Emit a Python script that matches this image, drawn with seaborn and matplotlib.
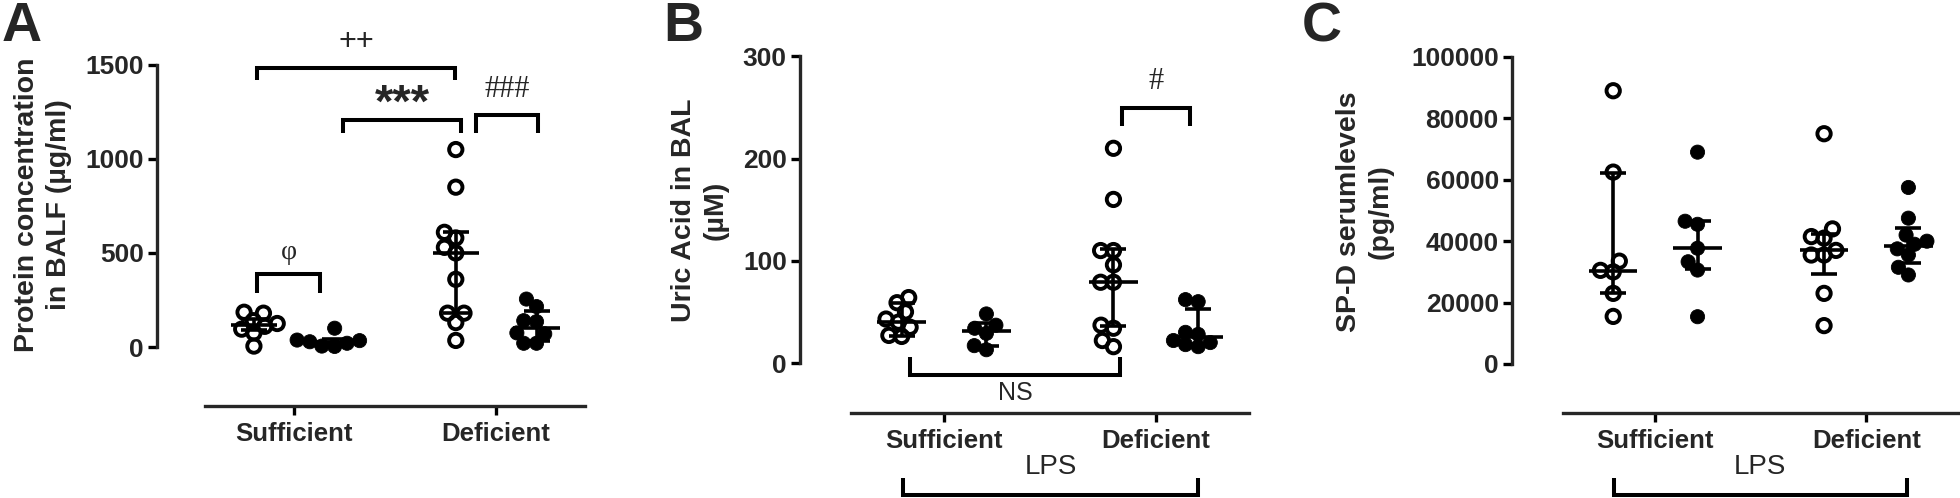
import numpy as np
import pandas as pd
import seaborn as sns
import matplotlib.pyplot as plt
import matplotlib.ticker as mtick
from matplotlib.collections import PathCollection

# DATA ################################################################

diets = ['Sufficient', 'Deficient']
groups = ['open', 'filled']

# A - protein concentration in BALF (ug/ml)
a_suff_open = [185, 180, 140, 125, 110, 95, 75, 5]
a_suff_filled = [100, 37, 34, 28, 20, 5, 3]
a_def_open = [1050, 850, 610, 580, 530, 500, 360, 180, 180, 130, 35]
a_def_filled = [255, 215, 140, 135, 75, 70, 20, 20]
# median / IQR lines, order: suff open, suff filled, def open, def filled
a_med = [117, 28, 500, 100]
a_q1 = [90, 12, 180, 30]
a_q3 = [150, 40, 610, 190]

# B - uric acid in BAL (uM)
b_suff_open = [64, 59, 50, 43, 40, 35, 27, 26]
b_suff_filled = [48, 37, 34, 29, 17, 13]
b_def_open = [210, 160, 110, 110, 96, 79, 79, 37, 34, 22, 16]
b_def_filled = [62, 60, 30, 28, 22, 20, 18, 16]
b_med = [40, 31, 79, 25]
b_q1 = [26, 17, 36, 18]
b_q3 = [59, 39, 112, 53]

# C - SP-D serum levels (pg/ml)
c_suff_open = [89000, 62500, 33500, 30500, 30000, 23000, 15500]
c_suff_filled = [69000, 46500, 45500, 37700, 33300, 30600, 15400]
c_def_open = [75000, 44000, 41500, 41000, 37000, 35500, 35500, 23000, 12500]
c_def_filled = [57500, 47500, 42000, 40000, 39000, 37500, 35500, 31500, 29000]
c_med = [30300, 37700, 37000, 38500]
c_q1 = [23000, 30800, 29400, 32800]
c_q3 = [62100, 46700, 42500, 44200]

# STYLE ###############################################################

sns.set_style('ticks')
plt.rcParams['font.family'] = ['Liberation Sans', 'DejaVu Sans']
plt.rcParams['font.weight'] = 'bold'
plt.rcParams['axes.labelweight'] = 'bold'

W, H = 1960, 498
fig = plt.figure(figsize=(W / 100, H / 100), dpi=100)
SERIF = ['Liberation Serif', 'DejaVu Serif']


def make_df(so, sf, do, dfl):
    rows = []
    for diet, grp, vals in [('Sufficient', 'open', so), ('Sufficient', 'filled', sf),
                            ('Deficient', 'open', do), ('Deficient', 'filled', dfl)]:
        for v in vals:
            rows.append((diet, grp, v))
    return pd.DataFrame(rows, columns=['diet', 'group', 'value'])


def bracket(ax, x1, x2, y, leg, label, fs, weight='normal', family=None, ty=None, trans=None):
    kw = {} if trans is None else {'transform': trans}
    ax.plot([x1, x1, x2, x2], [y - leg, y, y, y - leg], color='black', lw=2.9,
            solid_capstyle='butt', solid_joinstyle='miter', clip_on=False, **kw)
    if label:
        fam = family if family else ['Liberation Sans', 'DejaVu Sans']
        ax.text((x1 + x2) / 2, ty, label, ha='center', va='center', fontsize=fs,
                fontweight=weight, family=fam, **kw)


def panel(left, width, df, med, q1, q3, ylim, yticks, ylabel, lab_xy, xoff):
    ax = fig.add_axes([left / W, (H - 385) / H, width / W, 365 / H])
    # swarm is laid out with a small marker so the dots may overlap a bit (like the original)
    sns.swarmplot(data=df, x='diet', y='value', hue='group', order=diets, hue_order=groups,
                  dodge=True, palette={'open': 'white', 'filled': 'black'},
                  edgecolor='black', linewidth=2.0, size=6.8, legend=False, ax=ax, zorder=3)

    xs = np.array([i + off for i in range(len(diets)) for off in (-0.2, 0.2)])
    med = np.array(med)
    ax.errorbar(xs, med, yerr=[med - np.array(q1), np.array(q3) - med], fmt='none',
                ecolor='black', elinewidth=2.6, capsize=9.4, capthick=2.6, zorder=2)
    ax.hlines(med, xs - 0.115, xs + 0.115, color='black', lw=2.6, zorder=2)

    ax.set_xlim(-0.68, 1.44)
    ax.set_ylim(*ylim)
    ax.set_xticks(range(len(diets)))
    ax.set_xticklabels(diets)
    ax.set_yticks(yticks)
    ax.yaxis.set_major_formatter(mtick.StrMethodFormatter('{x:.0f}'))
    ax.set_xlabel('')
    ax.set_ylabel(ylabel, fontsize=20.5, fontweight='bold', linespacing=1.3, va='center')
    ax.yaxis.set_label_coords(*lab_xy)

    for s in ['top', 'right']:
        ax.spines[s].set_visible(False)
    ax.spines['left'].set_bounds(0, yticks[-1])
    ax.spines['bottom'].set_bounds(-0.44, 1.44)
    ax.spines['bottom'].set_position(('outward', xoff))
    for s in ['left', 'bottom']:
        ax.spines[s].set_linewidth(2.4)
    ax.tick_params(axis='both', length=6.5, width=2.4, color='black')
    ax.tick_params(axis='y', pad=3, labelsize=19)
    ax.tick_params(axis='x', pad=5, labelsize=18.5)
    for t in ax.get_xticklabels() + ax.get_yticklabels():
        t.set_fontweight('bold')
    return ax


def finish_markers(ax):
    # freeze the swarm positions, then draw the dots at full size
    for coll in ax.collections:
        if not isinstance(coll, PathCollection):
            continue
        coll.__dict__.pop('draw', None)
        fc = coll.get_facecolor()
        if len(fc) and fc[:, 0].min() > 0.9:
            coll.set_facecolor('none')      # hollow: median lines show through
            coll.set_sizes([9.6 ** 2])
            coll.set_linewidth(2.8)
        else:
            coll.set_sizes([10.2 ** 2])
            coll.set_linewidth(0.6)


# PANEL A ##############################################################
axA = panel(157, 428, make_df(a_suff_open, a_suff_filled, a_def_open, a_def_filled),
            a_med, a_q1, a_q3, (-202, 1739), [0, 500, 1000, 1500],
            'Protein concentration\nin BALF (µg/ml)', (-0.266, 0.493), 15.1)
bracket(axA, -0.183, 0.797, 1484, 64, '++', 22, ty=1622)
bracket(axA, 0.243, 0.827, 1207, 69, '***', 34, weight='bold', ty=1290)
bracket(axA, 0.90, 1.208, 1234, 96, '###', 22, family=SERIF, ty=1367)
bracket(axA, -0.183, 0.129, 388, 101, 'φ', 20, family=SERIF, ty=505)

# PANEL B ##############################################################
axB = panel(800, 449, make_df(b_suff_open, b_suff_filled, b_def_open, b_def_filled),
            b_med, b_q1, b_q3, (-21.5, 335.5), [0, 100, 200, 300],
            'Uric Acid in BAL\n(µM)', (-0.223, 0.479), 20.2)
bracket(axB, 0.84, 1.16, 249, 17, '#', 22, family=SERIF, ty=275)
bracket(axB, -0.16, 0.83, -11.7, -17.6, 'NS', 18, ty=-29)
bracket(axB, -0.193, 1.198, -0.301, -0.046, 'LPS', 20, ty=-0.225, trans=axB.get_xaxis_transform())

# PANEL C ##############################################################
axC = panel(1512, 447, make_df(c_suff_open, c_suff_filled, c_def_open, c_def_filled),
            c_med, c_q1, c_q3, (-6840, 112040), [0, 20000, 40000, 60000, 80000, 100000],
            'SP-D serumlevels\n(pg/ml)', (-0.329, 0.474), 20.2)
bracket(axC, -0.198, 1.193, -0.301, -0.046, 'LPS', 20, ty=-0.225, trans=axC.get_xaxis_transform())

# panel letters
for x, letter in [(2, 'A'), (663, 'B'), (1302, 'C')]:
    fig.text(x / W, 1 - 1 / H, letter, fontsize=40, fontweight='bold', ha='left', va='top')

fig.canvas.draw()
for ax in [axA, axB, axC]:
    finish_markers(ax)

fig.savefig('out.png', dpi=100)
